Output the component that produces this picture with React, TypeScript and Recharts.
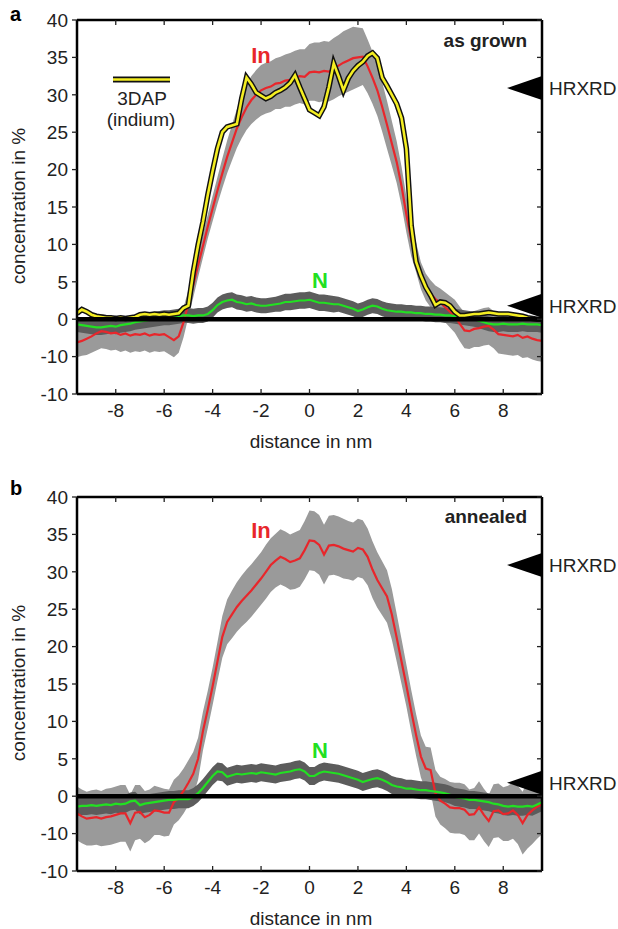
import React from "react";
import {
  ComposedChart,
  Area,
  Line,
  XAxis,
  YAxis,
  ReferenceLine,
  ReferenceDot,
} from "recharts";

// sampling positions (nm), shared by both panels
const DIST = [
  -9.6, -9.4, -9.2, -9.0, -8.8, -8.6, -8.4, -8.2, -8.0, -7.8,
  -7.6, -7.4, -7.2, -7.0, -6.8, -6.6, -6.4, -6.2, -6.0, -5.8,
  -5.6, -5.4, -5.2, -5.0, -4.8, -4.6, -4.4, -4.2, -4.0, -3.8,
  -3.6, -3.4, -3.2, -3.0, -2.8, -2.6, -2.4, -2.2, -2.0, -1.8,
  -1.6, -1.4, -1.2, -1.0, -0.8, -0.6, -0.4, -0.2, 0, 0.2,
  0.4, 0.6, 0.8, 1.0, 1.2, 1.4, 1.6, 1.8, 2.0, 2.2,
  2.4, 2.6, 2.8, 3.0, 3.2, 3.4, 3.6, 3.8, 4.0, 4.2,
  4.4, 4.6, 4.8, 5.0, 5.2, 5.4, 5.6, 5.8, 6.0, 6.2,
  6.4, 6.6, 6.8, 7.0, 7.2, 7.4, 7.6, 7.8, 8.0, 8.2,
  8.4, 8.6, 8.8, 9.0, 9.2, 9.4, 9.6,
];

// panel a: as grown
const IN_A = [
  -3.1, -2.9, -2.6, -2.3, -1.9, -1.6, -1.7, -1.9, -1.8, -2.1,
  -1.9, -2.2, -2.0, -2.1, -1.9, -2.2, -2.0, -2.1, -2.0, -2.4,
  -2.8, -2.3, -0.4, 2.1, 4.5, 7.2, 9.8, 12.4, 14.8, 17.2,
  19.5, 21.7, 23.6, 25.5, 27.0, 28.3, 29.3, 30.0, 30.6, 30.9,
  31.1, 31.5, 31.6, 31.9, 32.0, 32.3, 32.5, 32.4, 33.0, 33.1,
  33.0, 33.2, 33.1, 33.5, 33.9, 34.3, 34.6, 34.9, 35.0, 35.1,
  33.8, 32.3, 30.6, 28.4, 26.0, 23.5, 21.0, 17.8, 14.0, 10.6,
  8.3, 5.8, 4.3, 3.4, 2.7, 2.2, 1.6, 1.0, 0.4, -0.6,
  -1.5, -1.6, -1.3, -1.2, -1.0, -0.9, -1.4, -2.0, -2.1, -2.2,
  -2.3, -2.1, -2.5, -2.3, -2.6, -2.8, -2.9,
];
const IN_A_ERR = [
  2.0, 2.0, 2.2, 2.2, 2.3, 2.3, 2.3, 2.3, 2.3, 2.3,
  2.3, 2.3, 2.3, 2.3, 2.3, 2.3, 2.3, 2.3, 2.3, 2.3,
  2.3, 2.2, 2.0, 1.8, 1.6, 1.6, 1.6, 1.6, 1.7, 1.8,
  2.0, 2.2, 2.4, 2.6, 2.8, 3.0, 3.2, 3.3, 3.4, 3.4,
  3.4, 3.4, 3.5, 3.5, 3.6, 3.6, 3.6, 3.7, 3.8, 3.9,
  4.0, 4.0, 4.0, 4.1, 4.1, 4.2, 4.2, 4.2, 4.0, 3.8,
  3.6, 3.5, 3.4, 3.3, 3.2, 3.0, 2.8, 2.6, 2.4, 2.2,
  2.0, 1.8, 1.8, 1.8, 1.8, 1.9, 2.0, 2.1, 2.2, 2.3,
  2.4, 2.4, 2.4, 2.5, 2.5, 2.5, 2.5, 2.6, 2.6, 2.6,
  2.6, 2.7, 2.7, 2.8, 2.8, 2.8, 2.8,
];
const DAP_A = [
  0.8, 1.3, 1.0, 0.6, 0.4, 0.3, 0.2, 0.2, 0.1, 0.2,
  0.1, 0.2, 0.3, 0.6, 0.7, 0.6, 0.7, 0.6, 0.7, 0.6,
  0.7, 0.8, 1.5, 1.8, 6.3, 9.9, 13.0, 16.6, 19.8, 22.8,
  25.0, 25.7, 25.9, 26.1, 29.5, 32.3, 31.4, 30.3, 29.9, 29.5,
  29.8, 30.3, 30.6, 31.0, 31.6, 32.6, 31.0, 29.5, 28.0, 27.6,
  27.2, 28.4, 31.0, 34.2, 32.5, 30.6, 32.2, 33.2, 33.9, 34.4,
  35.2, 35.6, 34.9, 32.3, 31.2, 30.0, 28.8, 26.9, 22.8, 12.5,
  7.7, 5.8, 4.3, 3.2, 1.9, 2.3, 2.2, 1.8, 1.0, 0.5,
  0.5, 0.6, 0.7, 0.7, 0.8, 0.9, 0.8, 0.7, 0.7, 0.7,
  0.6, 0.5, 0.4, 0.2, 0.1, 0.0, 0.0,
];
const N_A = [
  -0.7, -0.8, -0.9, -1.0, -1.1, -1.1, -1.0, -0.9, -1.0, -0.8,
  -0.7, -0.6, -0.4, -0.3, -0.2, -0.1, 0.0, 0.1, 0.2, 0.2,
  0.3, 0.4, 0.5, 0.5, 0.4, 0.5, 0.5, 0.7, 1.2, 1.9,
  2.3, 2.5, 2.6, 2.3, 2.2, 2.0, 2.1, 1.9, 1.8, 1.8,
  1.9, 2.0, 2.1, 2.3, 2.3, 2.4, 2.5, 2.5, 2.6, 2.4,
  2.2, 2.2, 2.1, 2.0, 2.0, 1.8, 1.6, 1.4, 1.1, 1.3,
  1.6, 1.8, 1.7, 1.4, 1.2, 1.1, 1.0, 1.0, 0.9, 0.9,
  0.8, 0.8, 0.7, 0.7, 0.6, 0.6, 0.5, 0.5, 0.4, 0.3,
  0.2, 0.1, 0.0, -0.2, -0.4, -0.6, -0.7, -0.7, -0.6, -0.7,
  -0.7, -0.7, -0.6, -0.7, -0.7, -0.7, -0.8,
];
const N_A_ERR = [
  1.0, 1.0, 1.0, 1.0, 1.0, 1.0, 1.0, 1.0, 1.0, 1.0,
  1.0, 1.0, 1.0, 1.0, 1.0, 1.0, 1.0, 1.0, 1.0, 1.0,
  1.0, 1.0, 1.0, 1.0, 1.0, 1.0, 1.0, 1.0, 1.0, 1.0,
  1.0, 1.0, 1.0, 1.0, 1.0, 1.0, 1.0, 1.0, 1.0, 1.0,
  1.0, 1.0, 1.1, 1.1, 1.1, 1.1, 1.1, 1.1, 1.1, 1.1,
  1.1, 1.1, 1.1, 1.1, 1.0, 1.0, 1.0, 1.0, 1.0, 1.0,
  1.0, 1.0, 1.0, 1.0, 1.0, 1.0, 1.0, 1.0, 1.0, 1.0,
  1.0, 1.0, 1.0, 1.0, 1.0, 1.0, 1.0, 1.0, 1.0, 1.0,
  1.0, 1.0, 1.0, 1.0, 1.0, 1.0, 1.0, 1.0, 1.0, 1.0,
  1.0, 1.0, 1.0, 1.0, 1.0, 1.0, 1.0,
];

// panel b: annealed
const IN_B = [
  -2.3, -2.7, -3.0, -2.9, -2.8, -3.0, -2.8, -2.7, -2.5, -2.3,
  -2.3, -3.6, -2.2, -2.1, -2.8, -2.5, -1.9, -2.0, -2.2, -2.2,
  -0.8, -0.2, 0.7, 1.8, 3.0, 5.0, 8.7, 11.6, 14.7, 18.0,
  21.3, 23.3, 24.3, 25.3, 26.1, 26.8, 27.5, 28.3, 29.1, 30.0,
  30.9, 31.5, 32.0, 31.7, 31.3, 31.5, 31.8, 32.9, 34.2, 34.1,
  33.6, 32.3, 33.5, 33.6, 33.4, 33.1, 32.9, 32.7, 33.2, 33.0,
  32.0, 30.3, 28.9, 27.8, 26.7, 24.3, 21.2, 18.0, 14.8, 11.4,
  8.2, 5.3, 3.7, 3.5, 0.4, -0.6, -1.0, -1.5, -1.6, -1.6,
  -1.8, -2.5, -2.4, -1.5, -2.5, -3.3, -2.0, -1.9, -2.4, -2.3,
  -1.9, -2.5, -3.6, -2.5, -1.9, -1.4, -1.1,
];
const IN_B_ERR = [
  3.6, 3.6, 3.6, 3.7, 3.7, 3.7, 3.8, 3.8, 3.8, 3.8,
  3.8, 3.8, 3.7, 3.6, 3.5, 3.4, 3.3, 3.2, 3.2, 3.1,
  3.0, 3.0, 3.0, 3.0, 2.9, 2.8, 2.6, 2.5, 2.5, 2.6,
  2.8, 3.0, 3.2, 3.3, 3.4, 3.5, 3.5, 3.5, 3.5, 3.6,
  3.6, 3.6, 3.7, 3.7, 3.7, 3.8, 3.8, 3.9, 4.0, 4.0,
  4.0, 4.0, 4.0, 4.0, 4.0, 4.0, 3.9, 3.9, 3.9, 3.9,
  3.8, 3.8, 3.7, 3.6, 3.5, 3.4, 3.2, 3.0, 2.8, 2.8,
  2.8, 2.8, 2.9, 3.0, 3.1, 3.2, 3.3, 3.4, 3.4, 3.4,
  3.4, 3.4, 3.5, 3.5, 3.5, 3.5, 3.6, 3.6, 3.6, 3.7,
  3.8, 3.9, 4.2, 4.5, 4.5, 4.3, 4.0,
];
const N_B = [
  -1.4, -1.3, -1.3, -1.2, -1.3, -1.2, -1.1, -1.2, -1.0, -1.1,
  -1.0, -0.7, -0.6, -1.2, -1.0, -0.9, -0.8, -0.7, -0.6, -0.5,
  -0.5, -0.4, -0.4, -0.4, -0.1, 0.4, 1.1, 1.9, 2.7, 3.3,
  3.2, 2.6, 2.8, 3.0, 2.9, 3.0, 3.1, 3.0, 3.2, 3.1,
  3.0, 2.9, 3.1, 3.2, 3.3, 3.5, 3.6, 3.3, 2.7, 2.7,
  3.1, 3.3, 3.2, 3.1, 3.0, 2.8, 2.6, 2.4, 2.2, 1.9,
  2.1, 2.3, 2.4, 2.2, 1.9, 1.5, 1.3, 1.2, 1.0, 1.0,
  0.9, 0.8, 0.8, 0.7, 0.6, 0.5, 0.4, 0.2, -0.1, -0.2,
  -0.3, -0.5, -0.5, -0.6, -0.7, -0.8, -1.0, -1.1, -1.3, -1.4,
  -1.3, -1.4, -1.4, -1.3, -1.4, -1.1, -0.8,
];
const N_B_ERR = [
  1.2, 1.2, 1.2, 1.2, 1.2, 1.2, 1.2, 1.2, 1.2, 1.2,
  1.2, 1.2, 1.2, 1.2, 1.2, 1.2, 1.2, 1.2, 1.2, 1.2,
  1.2, 1.2, 1.2, 1.2, 1.2, 1.2, 1.2, 1.2, 1.2, 1.2,
  1.2, 1.2, 1.2, 1.2, 1.2, 1.2, 1.2, 1.2, 1.2, 1.2,
  1.2, 1.2, 1.2, 1.2, 1.2, 1.2, 1.2, 1.2, 1.2, 1.2,
  1.2, 1.2, 1.2, 1.2, 1.2, 1.2, 1.2, 1.2, 1.2, 1.2,
  1.2, 1.2, 1.2, 1.2, 1.2, 1.2, 1.2, 1.2, 1.2, 1.2,
  1.2, 1.2, 1.2, 1.2, 1.2, 1.2, 1.2, 1.2, 1.2, 1.2,
  1.2, 1.2, 1.2, 1.2, 1.2, 1.2, 1.2, 1.2, 1.2, 1.2,
  1.2, 1.2, 1.2, 1.2, 1.2, 1.2, 1.2,
];

// HRXRD reference values (%)
const HRXRD = [30.9, 1.8];

const X_DOMAIN = [-9.6, 9.6];
const X_TICKS = [-8, -6, -4, -2, 0, 2, 4, 6, 8];
const Y_DOMAIN = [-10, 40];
const Y_TICKS = [-10, -5, 0, 5, 10, 15, 20, 25, 30, 35, 40];
const Y_TICK_LABELS = ["-10", "-10", "0", "5", "10", "15", "20", "25", "30", "35", "40"];

const FONT = '"Liberation Sans", Arial, Helvetica, sans-serif';
const RED = "#e8262b";
const GREEN = "#22e022";
const YELLOW = "#f4ee22";
const BAND = "#9a9a9a";
const NBAND = "#5c5c5c";
const INK = "#222";

const axisLine = { stroke: "#000", strokeWidth: 2.5 };
const tickLine = { stroke: "#222", strokeWidth: 1.3 };

function BottomTick(props: any) {
  const { x, y, payload } = props;
  return (
    <g>
      <line x1={x} x2={x} y1={y - 10} y2={y - 15} stroke="#222" strokeWidth={1.3} />
      <text x={x} y={y} dy="0.71em" textAnchor="middle" fontSize={19} fill={INK}>
        {payload.value}
      </text>
    </g>
  );
}

function NoLabel() {
  return <g />;
}

function HrxrdMark(props: any) {
  const { cx, cy } = props;
  return (
    <g>
      <polygon points={`${cx},${cy - 12} ${cx},${cy + 12} ${cx - 35},${cy}`} fill="#000" />
      <text x={cx + 7} y={cy + 7} fontSize={19} fill={INK} fontFamily={FONT}>
        HRXRD
      </text>
    </g>
  );
}

function Panel({ top, inVals, inErr, nVals, nErr, dap }: any) {
  const rows = DIST.map((d, i) => ({
    d,
    inn: inVals[i],
    inBand: [inVals[i] - inErr[i], inVals[i] + inErr[i]],
    n: nVals[i],
    nBand: [nVals[i] - nErr[i], nVals[i] + nErr[i]],
    dap: dap ? dap[i] : null,
  }));

  return (
    <div style={{ position: "absolute", left: 0, top }}>
      <ComposedChart
        width={618}
        height={470}
        data={rows}
        margin={{ top: 20, right: 76, bottom: 36, left: 17 }}
      >
        <XAxis
          type="number"
          dataKey="d"
          domain={X_DOMAIN}
          ticks={X_TICKS}
          height={40}
          axisLine={axisLine}
          tickLine={false}
          tickSize={0}
          tickMargin={10}
          tick={<BottomTick />}
          allowDataOverflow
        />
        <XAxis
          xAxisId="top"
          orientation="top"
          mirror
          type="number"
          dataKey="d"
          domain={X_DOMAIN}
          ticks={X_TICKS}
          height={10}
          axisLine={axisLine}
          tickLine={tickLine}
          tickSize={5}
          tick={<NoLabel />}
          allowDataOverflow
        />
        <YAxis
          type="number"
          domain={Y_DOMAIN}
          ticks={Y_TICKS}
          width={60}
          axisLine={axisLine}
          tickLine={tickLine}
          tickSize={5}
          tickMargin={4}
          tick={{ fontSize: 19, fill: INK }}
          tickFormatter={(v: number) => Y_TICK_LABELS[Y_TICKS.indexOf(v)]}
          allowDataOverflow
        />
        <YAxis
          yAxisId="right"
          orientation="right"
          mirror
          type="number"
          domain={Y_DOMAIN}
          ticks={Y_TICKS}
          width={10}
          axisLine={axisLine}
          tickLine={tickLine}
          tickSize={5}
          tick={<NoLabel />}
          allowDataOverflow
        />

        <Area
          dataKey="inBand"
          type="linear"
          stroke="none"
          fill={BAND}
          fillOpacity={1}
          isAnimationActive={false}
          dot={false}
          activeDot={false}
        />
        <Area
          dataKey="nBand"
          type="linear"
          stroke="none"
          fill={NBAND}
          fillOpacity={1}
          isAnimationActive={false}
          dot={false}
          activeDot={false}
        />
        <Line
          dataKey="inn"
          type="linear"
          stroke={RED}
          strokeWidth={2.2}
          dot={false}
          activeDot={false}
          isAnimationActive={false}
        />
        <Line
          dataKey="n"
          type="linear"
          stroke={GREEN}
          strokeWidth={2.2}
          dot={false}
          activeDot={false}
          isAnimationActive={false}
        />
        {dap && (
          <Line
            dataKey="dap"
            type="linear"
            stroke="#111"
            strokeWidth={5.5}
            dot={false}
            activeDot={false}
            isAnimationActive={false}
          />
        )}
        {dap && (
          <Line
            dataKey="dap"
            type="linear"
            stroke={YELLOW}
            strokeWidth={2.6}
            dot={false}
            activeDot={false}
            isAnimationActive={false}
          />
        )}
        <ReferenceLine y={0} stroke="#000" strokeWidth={4.5} ifOverflow="visible" />
        {HRXRD.map((v) => (
          <ReferenceDot key={v} x={9.6} y={v} ifOverflow="visible" shape={HrxrdMark} />
        ))}
      </ComposedChart>
    </div>
  );
}

function Labels({ dy, letter, title, inY, nY, titleY }: any) {
  return (
    <g transform={`translate(0,${dy})`}>
      <text x={10} y={letter === "a" ? 21 : 18} fontSize={20} fontWeight="bold" fill="#000">
        {letter}
      </text>
      <text x={261} y={inY} textAnchor="middle" fontSize={22} fontWeight="bold" fill={RED}>
        In
      </text>
      <text x={320} y={nY} textAnchor="middle" fontSize={22} fontWeight="bold" fill={GREEN}>
        N
      </text>
      <text x={527} y={titleY} textAnchor="end" fontSize={19} fontWeight="bold" fill={INK}>
        {title}
      </text>
      <text x={311} y={448} textAnchor="middle" fontSize={19} fill={INK}>
        distance in nm
      </text>
      <text
        x={25}
        y={206}
        transform={`rotate(-90 25 206)`}
        textAnchor="middle"
        fontSize={19}
        fill={INK}
      >
        concentration in %
      </text>
    </g>
  );
}

export default function App() {
  return (
    <div
      style={{
        position: "absolute",
        left: 0,
        top: 0,
        width: 618,
        height: 929,
        background: "#fff",
        fontFamily: FONT,
        overflow: "hidden",
      }}
    >
      <Panel top={0} inVals={IN_A} inErr={IN_A_ERR} nVals={N_A} nErr={N_A_ERR} dap={DAP_A} />
      <Panel top={477} inVals={IN_B} inErr={IN_B_ERR} nVals={N_B} nErr={N_B_ERR} />
      <svg
        width={618}
        height={929}
        style={{ position: "absolute", left: 0, top: 0, pointerEvents: "none", fontFamily: FONT }}
      >
        <Labels dy={0} letter="a" title="as grown" inY={63} nY={288} titleY={47} />
        <Labels dy={477} letter="b" title="annealed" inY={61} nY={281} titleY={46} />
        {/* 3DAP legend */}
        <line x1={113} x2={170} y1={79.5} y2={79.5} stroke="#111" strokeWidth={6} />
        <line x1={113} x2={170} y1={79.5} y2={79.5} stroke={YELLOW} strokeWidth={2.4} />
        <text x={142} y={105} textAnchor="middle" fontSize={19} fill={INK}>
          3DAP
        </text>
        <text x={141} y={126} textAnchor="middle" fontSize={19} fill={INK}>
          (indium)
        </text>
      </svg>
    </div>
  );
}
